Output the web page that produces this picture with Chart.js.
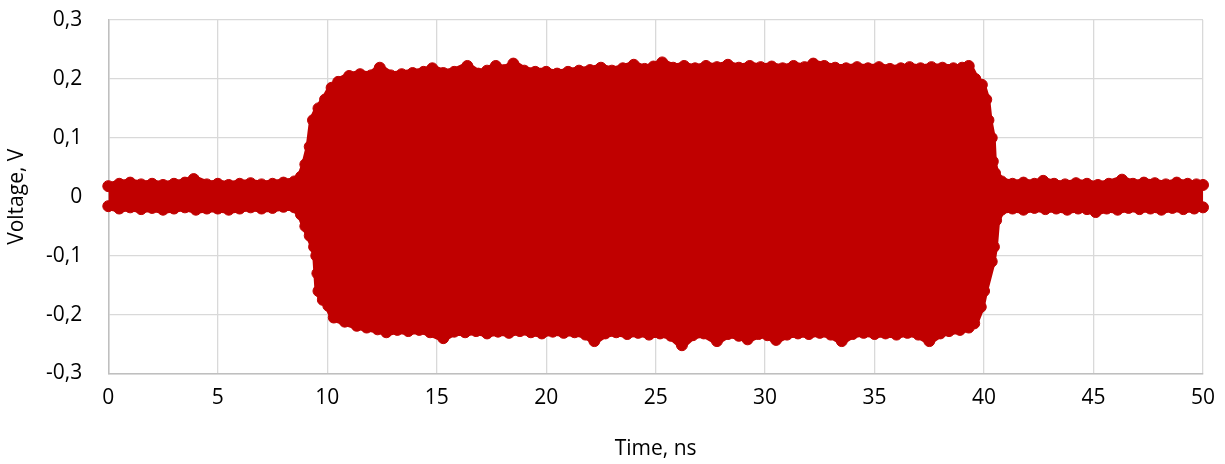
<!DOCTYPE html>
<html>
<head>
<meta charset="utf-8">
<title>Voltage vs time</title>
<script src="https://cdn.jsdelivr.net/npm/chart.js@4/dist/chart.umd.min.js"></script>
<style>
  html, body { margin: 0; padding: 0; background: #fff; }
  #chart { display: block; }
</style>
</head>
<body>
<canvas id="chart" width="1225" height="464"></canvas>
<script>
const upperTime = [0, 0.5, 1, 1.5, 2, 2.5, 3, 3.5, 3.9, 4.5, 5, 5.5, 6, 6.5, 7, 7.5, 8, 8.5, 8.8,
  9.0, 9.2, 9.35, 9.6, 9.9, 10.2, 10.5, 11, 11.5, 12, 12.4, 12.9, 13.4, 13.9, 14.4, 14.8, 15.3,
  15.8, 16.4, 16.9, 17.3, 17.7, 18.1, 18.5, 19, 19.5, 20, 20.5, 21, 21.5, 22, 22.5, 23, 23.5,
  24, 24.5, 24.9, 25.3, 25.8, 26.3, 26.8, 27.3, 27.8, 28.3, 28.8, 29.3, 29.8, 30.3, 30.8, 31.3,
  31.8, 32.2, 32.7, 33.2, 33.7, 34.2, 34.7, 35.2, 35.7, 36.2, 36.6, 37.1, 37.6, 38.1, 38.6, 39,
  39.3, 39.6, 39.9, 40.1, 40.2, 40.35, 40.4, 40.5, 40.8, 41.3, 41.8, 42.3, 42.7, 43.2, 43.7,
  44.2, 44.7, 45.2, 45.7, 46.3, 46.8, 47.3, 47.8, 48.3, 48.8, 49.3, 49.7, 50];
const upperVolt = [0.018, 0.022, 0.024, 0.021, 0.022, 0.020, 0.022, 0.024, 0.030, 0.021, 0.022,
  0.020, 0.022, 0.023, 0.021, 0.022, 0.024, 0.026, 0.034,
  0.055, 0.085, 0.13, 0.15, 0.165, 0.185, 0.195, 0.205, 0.208, 0.206, 0.219, 0.206, 0.208, 0.21,
  0.212, 0.218, 0.21, 0.212, 0.222, 0.209, 0.214, 0.222, 0.215, 0.226, 0.214, 0.212, 0.212,
  0.209, 0.212, 0.214, 0.215, 0.219, 0.214, 0.218, 0.224, 0.217, 0.221, 0.228, 0.219, 0.222,
  0.218, 0.222, 0.22, 0.224, 0.219, 0.222, 0.22, 0.221, 0.218, 0.222, 0.22, 0.226, 0.222, 0.219,
  0.218, 0.22, 0.218, 0.22, 0.217, 0.218, 0.22, 0.218, 0.22, 0.219, 0.218, 0.219,
  0.222, 0.20, 0.19, 0.165, 0.13, 0.10, 0.06, 0.04, 0.026, 0.022, 0.024, 0.022, 0.027, 0.022,
  0.021, 0.023, 0.022, 0.020, 0.022, 0.029, 0.022, 0.024, 0.023, 0.021, 0.024, 0.022, 0.021, 0.020];

// Lower edge of the sampled waveform (ns, V)
const lowerTime = [0, 0.5, 1, 1.5, 2, 2.5, 3, 3.5, 4, 4.5, 5, 5.5, 6, 6.5, 7, 7.5, 8, 8.5, 8.8,
  9.0, 9.2, 9.4, 9.5, 9.55, 9.6, 9.8, 10.05, 10.3, 10.8, 11.35, 11.8, 12.3, 12.7, 13.2, 13.7,
  14.2, 14.7, 15.3, 15.8, 16.3, 16.8, 17.3, 17.8, 18.3, 18.8, 19.3, 19.8, 20.3, 20.8, 21.3, 21.8,
  22.2, 22.7, 23.2, 23.7, 24.2, 24.7, 25.2, 25.7, 26.2, 26.7, 27.2, 27.8, 28.3, 28.8, 29.2, 29.7,
  30.1, 30.5, 31, 31.5, 32, 32.5, 33, 33.5, 34, 34.5, 35, 35.5, 36, 36.5, 37, 37.5, 38, 38.4,
  38.9, 39.3, 39.55, 39.85, 40.0, 40.35, 40.45, 40.55, 40.8, 41.3, 41.8, 42.3, 42.8, 43.3, 43.8,
  44.3, 44.7, 45.1, 45.6, 46.1, 46.6, 47.1, 47.6, 48.1, 48.6, 49.1, 49.6, 50];
const lowerVolt = [-0.016, -0.020, -0.018, -0.021, -0.019, -0.022, -0.020, -0.018, -0.022, -0.020,
  -0.020, -0.022, -0.020, -0.018, -0.020, -0.019, -0.017, -0.018, -0.030,
  -0.050, -0.066, -0.085, -0.10, -0.13, -0.16, -0.175, -0.185, -0.205, -0.212, -0.219, -0.222,
  -0.225, -0.23, -0.226, -0.228, -0.226, -0.23, -0.24, -0.229, -0.23, -0.228, -0.232, -0.229,
  -0.231, -0.228, -0.23, -0.232, -0.229, -0.231, -0.23, -0.234, -0.245, -0.232, -0.23, -0.233,
  -0.231, -0.234, -0.232, -0.236, -0.252, -0.235, -0.232, -0.245, -0.233, -0.236, -0.242, -0.233,
  -0.235, -0.243, -0.234, -0.232, -0.233, -0.231, -0.234, -0.245, -0.233, -0.231, -0.233, -0.232,
  -0.234, -0.231, -0.234, -0.245, -0.232, -0.228, -0.226, -0.222, -0.215, -0.187, -0.16, -0.11,
  -0.085, -0.04, -0.022, -0.020, -0.022, -0.019, -0.021, -0.020, -0.022, -0.020, -0.021, -0.026,
  -0.020, -0.022, -0.019, -0.021, -0.020, -0.022, -0.019, -0.021, -0.020, -0.018];

const xMin = 0, xMax = 50, xStep = 5;
const yMin = -0.3, yMax = 0.3, yStep = 0.1;

const RED = '#C00000';
const FONT = '"Open Sans", "Liberation Sans", sans-serif';

function toPoints(xs, ys) {
  return xs.map((x, i) => ({ x, y: ys[i] }));
}

// Excel-style decimal comma: 0,1 / -0,2 / 0
function commaLabel(v) {
  const r = Math.round(v * 10) / 10;
  if (r === 0) return '0';
  return r.toFixed(1).replace('.', ',');
}

// thick round-joined stroke smooths the gaps between the overlapping markers
function series(label, xs, ys, fill) {
  return {
    label,
    data: toPoints(xs, ys),
    fill,
    backgroundColor: RED,
    borderColor: RED,
    borderWidth: 8,
    borderJoinStyle: 'round',
    borderCapStyle: 'round',
    pointRadius: 5.5,
    pointBorderWidth: 1,
    pointBackgroundColor: RED,
    pointBorderColor: RED,
    tension: 0,
    clip: false
  };
}

new Chart(document.getElementById('chart'), {
  type: 'line',
  data: {
    datasets: [
      series('upper', upperTime, upperVolt, '+1'),
      series('lower', lowerTime, lowerVolt, false)
    ]
  },
  options: {
    responsive: false,
    animation: false,
    devicePixelRatio: 1,
    layout: { padding: { top: 20, right: 22, left: 0, bottom: 0 } },
    plugins: {
      legend: { display: false },
      tooltip: { enabled: false },
      filler: { propagate: false }
    },
    scales: {
      x: {
        type: 'linear',
        min: xMin, max: xMax,
        afterFit: s => { s.height = 90.5; s.paddingLeft = 0; s.paddingRight = 0; },
        ticks: { stepSize: xStep, padding: 12, color: '#000', font: { family: FONT, size: 21 } },
        grid: { color: '#D9D9D9', lineWidth: 1.3, drawTicks: false },
        border: { color: '#BFBFBF', width: 1.5 },
        title: {
          display: true, text: 'Time, ns', color: '#000',
          font: { family: FONT, size: 21 }, padding: { top: 0, bottom: 2 }
        }
      },
      y: {
        type: 'linear',
        min: yMin, max: yMax,
        // keep the label gap from pushing the plot area down
        afterFit: s => { s.width = 108.3; s.paddingTop = 0; s.paddingBottom = 0; },
        ticks: {
          stepSize: yStep, padding: 26, color: '#000',
          font: { family: FONT, size: 21 }, callback: commaLabel
        },
        grid: { color: '#D9D9D9', lineWidth: 1.3, drawTicks: false },
        border: { color: '#BFBFBF', width: 1.5 },
        title: {
          display: true, text: 'Voltage, V', color: '#000',
          font: { family: FONT, size: 21 }, padding: { top: 4, bottom: 0 }
        }
      }
    }
  }
});
</script>
</body>
</html>
